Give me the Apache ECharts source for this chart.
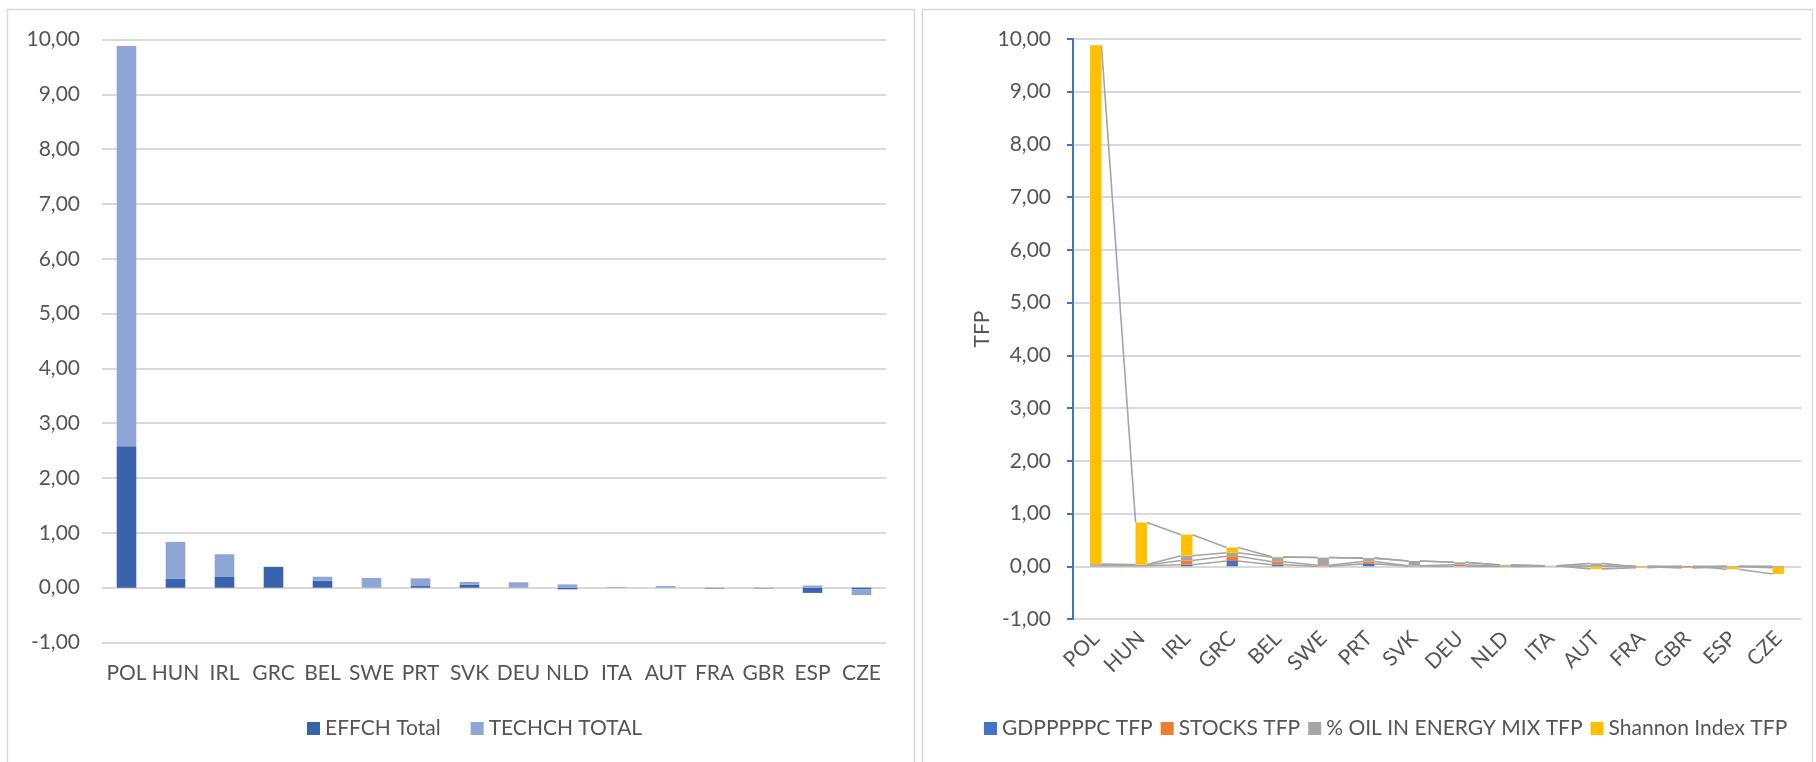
<!DOCTYPE html>
<html>
<head>
<meta charset="utf-8">
<title>EFFCH / TECHCH and TFP decomposition</title>
<script src="https://cdn.jsdelivr.net/npm/echarts@6/dist/echarts.min.js"></script>
<style>
  html, body { margin: 0; padding: 0; background: #ffffff; }
  #chart { width: 1816px; height: 762px; }
</style>
</head>
<body>
<div id="chart"></div>
<script>
// Countries, in the order shown on both panels
const categories = ['POL', 'HUN', 'IRL', 'GRC', 'BEL', 'SWE', 'PRT', 'SVK', 'DEU', 'NLD', 'ITA', 'AUT', 'FRA', 'GBR', 'ESP', 'CZE'];

// Left panel: efficiency change and technical change (stacked)
const effchTotal  = [2.58, 0.16, 0.195, 0.38, 0.125, 0.0, 0.03, 0.055, 0.0, -0.03, -0.005, 0.0, 0.0, 0.0, -0.095, -0.03];
const techchTotal = [7.30, 0.675, 0.415, 0.0, 0.075, 0.177, 0.14, 0.05, 0.098, 0.06, 0.005, 0.03, -0.025, -0.02, 0.04, -0.105];

// Right panel: TFP contributions (stacked)
const gdpTfp     = [0.01, 0.01, 0.03, 0.10, 0.03, 0.0, 0.045, 0.005, 0.0, -0.005, 0.0, 0.005, 0.0, 0.0, 0.0, 0.0];
const stocksTfp  = [0.01, 0.015, 0.08, 0.09, 0.055, 0.02, 0.045, 0.005, 0.03, 0.0, 0.0, 0.0, 0.0, -0.02, 0.0, -0.01];
const oilTfp     = [0.02, 0.01, 0.09, 0.065, 0.085, 0.145, 0.065, 0.09, 0.045, 0.02, 0.01, 0.05, -0.01, -0.01, -0.01, -0.015];
const shannonTfp = [9.84, 0.795, 0.40, 0.10, 0.01, 0.0, 0.0, 0.0, 0.0, 0.01, 0.0, -0.05, -0.015, 0.0, -0.045, -0.12];

// Value-axis ticks
const yMin = -1, yMax = 10, yStep = 1;

const leftNames  = ['EFFCH Total', 'TECHCH TOTAL'];
const rightNames = ['GDPPPPPC TFP', 'STOCKS TFP', '% OIL IN ENERGY MIX TFP', 'Shannon Index TFP'];

const textColor = '#555555';
const gridColor = '#D9D9D9';
const fontFamily = 'Lato, "Open Sans", sans-serif';
const fmt = v => v.toFixed(2).replace('.', ',');

// Stack ends of each TFP series per country (positives and negatives stacked separately)
const tfpSeries = [gdpTfp, stocksTfp, oilTfp, shannonTfp];
const stackEnds = categories.map((_, i) => {
  let pos = 0, neg = 0;
  return tfpSeries.map(arr => {
    const v = arr[i];
    if (v < 0) { neg += v; return neg; }
    pos += v; return pos;
  });
});
// Each connector row: [index, ends at index..., ends at index+1...]
const connectorRows = [];
for (let i = 0; i < categories.length - 1; i++) {
  connectorRows.push([i].concat(stackEnds[i], stackEnds[i + 1]));
}

const rightBarRatio = 0.25;

const chart = echarts.init(document.getElementById('chart'), null, { renderer: 'canvas' });

const valueAxisBase = {
  type: 'value',
  min: yMin, max: yMax, interval: yStep,
  axisLabel: { formatter: fmt, color: textColor, fontSize: 21, fontFamily: fontFamily, margin: 22 },
  splitLine: { lineStyle: { color: gridColor, width: 2 } }
};

chart.setOption({
  animation: false,
  backgroundColor: '#ffffff',
  textStyle: { fontFamily: fontFamily },
  graphic: [
    { type: 'rect', shape: { x: 7.5, y: 9.5, width: 907, height: 770 },
      style: { fill: 'none', stroke: gridColor, lineWidth: 1.5 }, silent: true },
    { type: 'rect', shape: { x: 922.5, y: 9.5, width: 890, height: 770 },
      style: { fill: 'none', stroke: gridColor, lineWidth: 1.5 }, silent: true }
  ],
  grid: [
    { left: 102, right: 930, top: 39.5, bottom: 119.5 },
    { left: 1073, right: 15, top: 39, bottom: 143 }
  ],
  legend: [
    {
      data: leftNames, left: 302, top: 713, icon: 'rect',
      itemWidth: 13, itemHeight: 13, itemGap: 30,
      textStyle: { color: textColor, fontSize: 21, fontFamily: fontFamily }
    },
    {
      data: rightNames, left: 979, top: 713, icon: 'rect',
      itemWidth: 13, itemHeight: 13, itemGap: 8,
      textStyle: { color: textColor, fontSize: 21, fontFamily: fontFamily }
    }
  ],
  xAxis: [
    {
      gridIndex: 0, type: 'category', data: categories,
      axisLine: { show: false, onZero: false },
      axisTick: { show: false },
      axisLabel: { color: textColor, fontSize: 21, fontFamily: fontFamily, margin: 20, interval: 0 }
    },
    {
      gridIndex: 1, type: 'category', data: categories,
      axisLine: { show: false, onZero: false },
      axisTick: { show: false },
      axisLabel: { color: textColor, fontSize: 21, fontFamily: fontFamily, margin: 16, interval: 0, rotate: 45 }
    }
  ],
  yAxis: [
    Object.assign({ gridIndex: 0 }, valueAxisBase, {
      axisLine: { show: false }, axisTick: { show: false }
    }),
    Object.assign({ gridIndex: 1 }, valueAxisBase, {
      name: 'TFP', nameLocation: 'middle', nameGap: 80,
      nameTextStyle: { color: textColor, fontSize: 21, fontFamily: fontFamily },
      axisLine: { show: true, lineStyle: { color: '#4472C4', width: 2 } },
      axisTick: { show: true, length: 6, lineStyle: { color: '#4472C4', width: 2 } }
    })
  ],
  series: [
    { name: leftNames[0], type: 'bar', xAxisIndex: 0, yAxisIndex: 0, stack: 'left',
      barWidth: '40%', data: effchTotal, itemStyle: { color: '#3A63AD' } },
    { name: leftNames[1], type: 'bar', xAxisIndex: 0, yAxisIndex: 0, stack: 'left',
      data: techchTotal, itemStyle: { color: '#8FA5D6' } },

    { name: rightNames[0], type: 'bar', xAxisIndex: 1, yAxisIndex: 1, stack: 'tfp',
      barWidth: (rightBarRatio * 100) + '%', data: gdpTfp, itemStyle: { color: '#4472C4' }, z: 3 },
    { name: rightNames[1], type: 'bar', xAxisIndex: 1, yAxisIndex: 1, stack: 'tfp',
      data: stocksTfp, itemStyle: { color: '#ED7D31' }, z: 3 },
    { name: rightNames[2], type: 'bar', xAxisIndex: 1, yAxisIndex: 1, stack: 'tfp',
      data: oilTfp, itemStyle: { color: '#A5A5A5' }, z: 3 },
    { name: rightNames[3], type: 'bar', xAxisIndex: 1, yAxisIndex: 1, stack: 'tfp',
      data: shannonTfp, itemStyle: { color: '#FFC000' }, z: 3 },

    // Series lines joining the end of each stacked segment to the next country's bar
    {
      name: 'series-lines', type: 'custom', xAxisIndex: 1, yAxisIndex: 1,
      data: connectorRows, z: 2, silent: true,
      encode: { x: 0, y: [1, 2, 3, 4] },
      renderItem: function (params, api) {
        const i = api.value(0);
        const band = api.size([1, 0])[0];
        const half = band * rightBarRatio / 2;
        const children = [];
        for (let s = 0; s < 4; s++) {
          const p1 = api.coord([i, api.value(1 + s)]);
          const p2 = api.coord([i + 1, api.value(5 + s)]);
          children.push({
            type: 'line',
            shape: { x1: p1[0] + half, y1: p1[1], x2: p2[0] - half, y2: p2[1] },
            style: { stroke: '#A5A5A5', lineWidth: 1.6 }
          });
        }
        return { type: 'group', children: children };
      }
    }
  ]
});
</script>
</body>
</html>
